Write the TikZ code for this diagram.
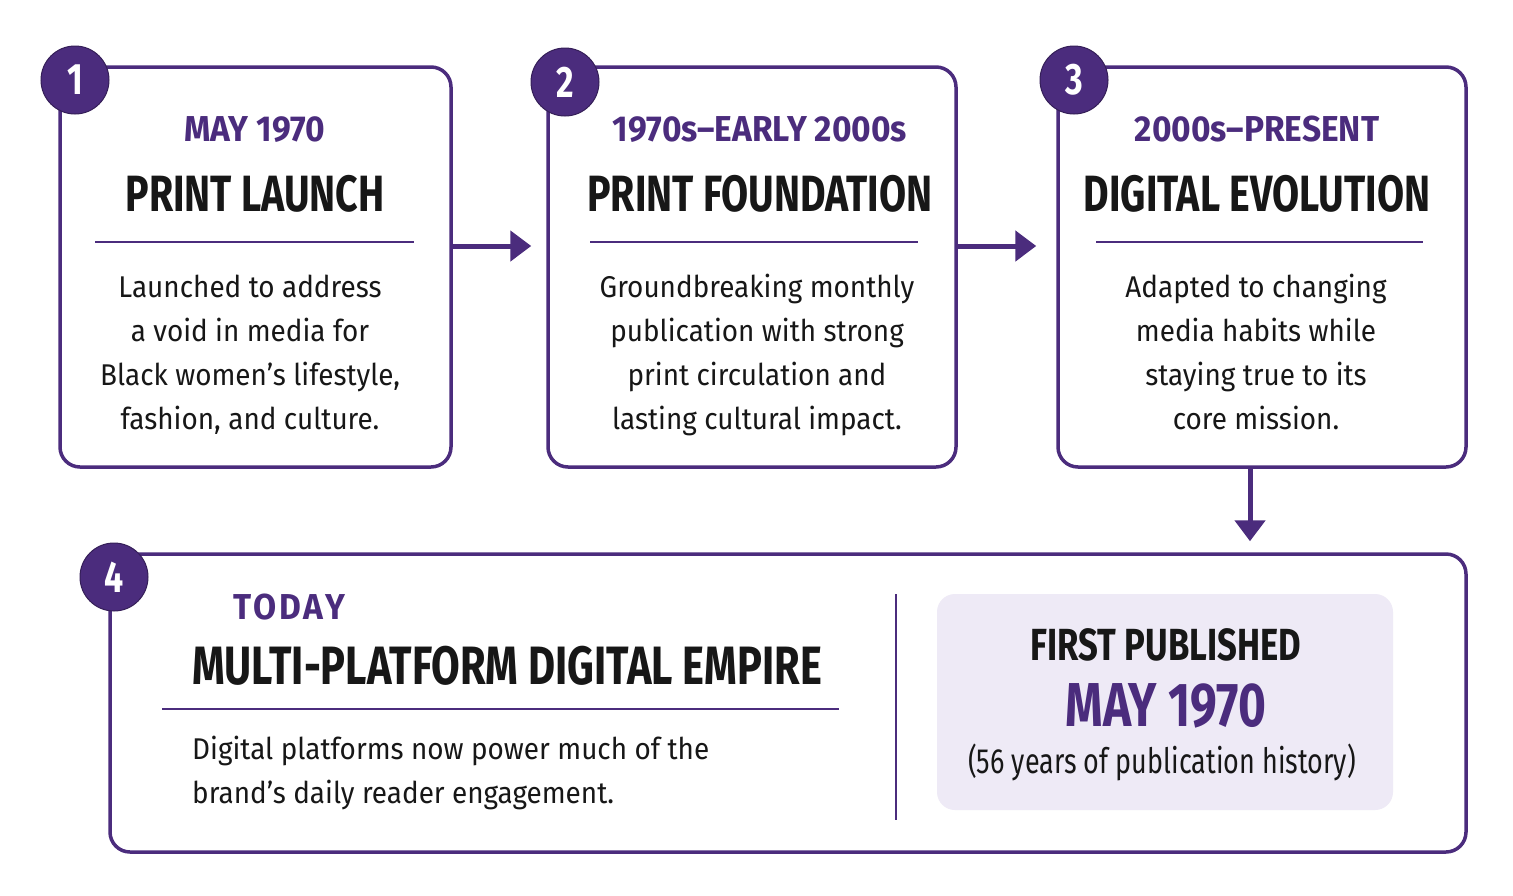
\documentclass[tikz,border=0pt]{standalone}
\usepackage{fontspec}
\setmainfont{Fira Sans}
\newfontfamily\headfont[FakeStretch=0.77]{Fira Sans}
\newfontfamily\datefont[FakeStretch=0.93]{Fira Sans}
\newfontfamily\bodyfont[FakeStretch=0.93]{Fira Sans}
\usetikzlibrary{arrows.meta, positioning, calc}
\definecolor{EssPurple}{HTML}{4B2C7D}
\definecolor{EssLilac}{HTML}{EEEAF6}
\definecolor{EssInk}{HTML}{171717}

\begin{document}
\begin{tikzpicture}[x=1pt, y=-1pt,
  stage/.style={draw=EssPurple, line width=3.5pt, rounded corners=20pt, fill=white, minimum width=408pt, minimum height=400pt, inner sep=0pt},
  badge/.style={circle, fill=EssPurple, draw=EssPurple!70!black, line width=1pt, minimum size=68pt, inner sep=0pt, text=white, font=\headfont\bfseries\fontsize{44}{44}\selectfont},
  stagedate/.style={anchor=base, inner sep=0pt, text=EssPurple, font=\datefont\bfseries\fontsize{36}{36}\selectfont},
  stagetitle/.style={anchor=base, inner sep=0pt, text=EssInk, font=\headfont\bfseries\fontsize{51}{51}\selectfont},
  stagebody/.style={anchor=base, inner sep=0pt, align=center, text=EssInk, font=\bodyfont\fontsize{30}{44}\selectfont},
  stagerule/.style={draw=EssPurple, line width=2pt},
  flowarrow/.style={draw=EssPurple, line width=5pt, -{Triangle[length=21pt, width=30pt]}},
  ]
  \useasboundingbox[fill=white] (0,0) rectangle (1513,895);

  % three stage boxes
  \node[stage, minimum width=391pt] (p1) at (255.5,267) {};
  \node[stage] (p2) at (752,267) {};
  \node[stage] (p3) at (1262,267) {};
  \node[stage, minimum width=1356pt, minimum height=298pt] (p4) at (788,703) {};

  \draw[flowarrow, shorten >=15pt] ([yshift=21pt]p1.east) -- ([yshift=21pt]p2.west);
  \draw[flowarrow, shorten >=20pt] ([yshift=21pt]p2.east) -- ([yshift=21pt]p3.west);
  \draw[flowarrow, shorten >=11pt] ([xshift=-12pt]p3.south) -- ([xshift=-12pt]p3.south |- p4.north);

  % stage 1
  \node[badge] (n1) at (75,80) {1};
  \node[stagedate] (d1) at (255,141) {MAY 1970};
  \node[stagetitle] (t1) at (255,211) {PRINT LAUNCH};
  \draw[stagerule] (95,242) -- (414,242);
  \node[stagebody] (b1) at (250,429) {Launched to address\\a void in media for\\Black women’s lifestyle,\\fashion, and culture.};

  % stage 2
  \node[badge] (n2) at (565,82) {2};
  \node[stagedate] (d2) at (760,141) {1970s–EARLY 2000s};
  \node[stagetitle] (t2) at (760,211) {PRINT FOUNDATION};
  \draw[stagerule] (590,242) -- (918,242);
  \node[stagebody] (b2) at (757,429) {Groundbreaking monthly\\publication with strong\\print circulation and\\lasting cultural impact.};

  % stage 3
  \node[badge] (n3) at (1074,80) {3};
  \node[stagedate] (d3) at (1257,141) {2000s–PRESENT};
  \node[stagetitle] (t3) at (1257,211) {DIGITAL EVOLUTION};
  \draw[stagerule] (1096,242) -- (1423,242);
  \node[stagebody] (b3) at (1256,429) {Adapted to changing\\media habits while\\staying true to its\\core mission.};

  % stage 4
  \node[badge] (n4) at (114,577) {4};
  \node[stagedate, anchor=base west] (d4) at (233,619) {T\kern2.5pt O\kern2.5pt D\kern2.5pt A\kern2.5pt Y};
  \node[stagetitle, anchor=base west, font=\headfont\bfseries\fontsize{54}{54}\selectfont] (t4) at (192,684) {MULTI-PLATFORM DIGITAL EMPIRE};
  \draw[stagerule] (162,709) -- (839,709);
  \node[stagebody, align=left, anchor=base west] (b4) at (192,803) {Digital platforms now power much of the\\brand’s daily reader engagement.};
  \draw[EssPurple, line width=2.5pt] (896,594) -- (896,820);

  % first published panel
  \node[fill=EssLilac, rounded corners=18pt, minimum width=456pt, minimum height=216pt] (fp) at (1165,702) {};
  \node[stagetitle, font=\headfont\bfseries\fontsize{45}{45}\selectfont] (fpl) at (1166,660) {FIRST PUBLISHED};
  \node[stagetitle, text=EssPurple, font=\headfont\bfseries\fontsize{62}{62}\selectfont] (fpd) at (1166,726) {MAY 1970};
  \node[stagetitle, font=\headfont\fontsize{35}{35}\selectfont] (fph) at (1162,773) {(56 years of publication history)};
\end{tikzpicture}
\end{document}
